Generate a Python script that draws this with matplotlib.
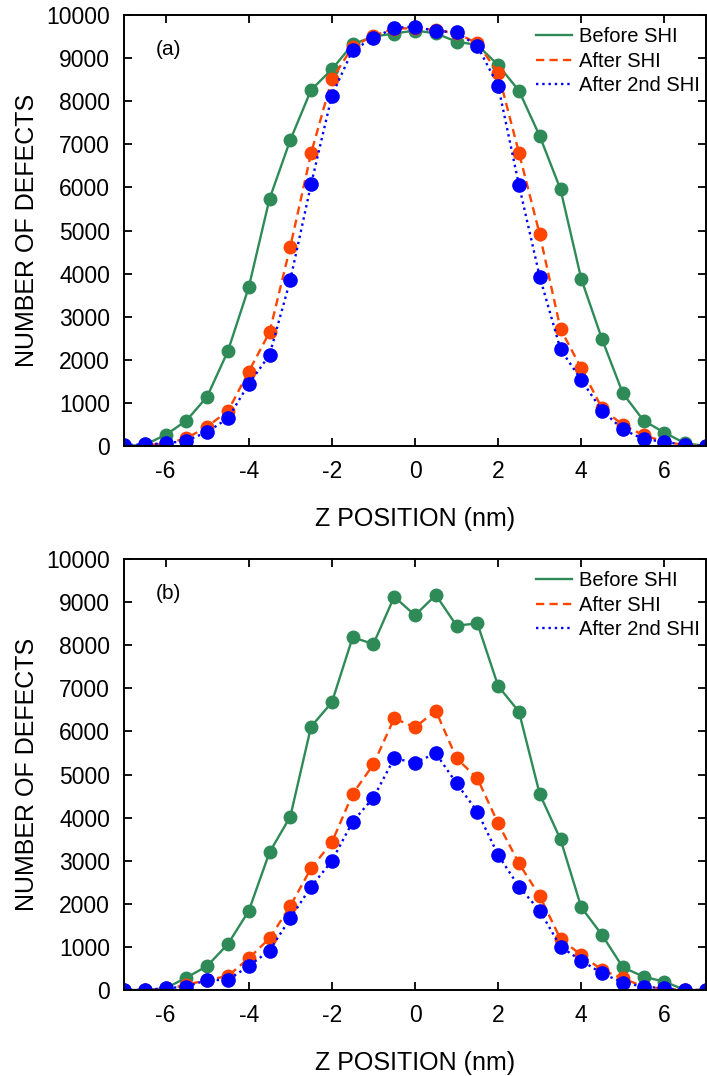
import matplotlib
matplotlib.use("Agg")
import matplotlib.pyplot as plt

plt.rcParams['font.family'] = ['Liberation Sans', 'DejaVu Sans']

z = [-7, -6.5, -6, -5.5, -5, -4.5, -4, -3.5, -3, -2.5, -2, -1.5, -1, -0.5, 0,
     0.5, 1, 1.5, 2, 2.5, 3, 3.5, 4, 4.5, 5, 5.5, 6, 6.5, 7]

a_before = [0, 30, 255, 588, 1145, 2204, 3681, 5731, 7100, 8260, 8739, 9319, 9500, 9570, 9640,
            9575, 9381, 9304, 8840, 8244, 7193, 5955, 3875, 2475, 1222, 588, 309, 62, 0]
a_after = [0, 20, 50, 178, 449, 812, 1725, 2637, 4625, 6790, 8507, 9265, 9520, 9680, 9700,
           9650, 9580, 9343, 8662, 6806, 4911, 2715, 1802, 874, 487, 250, 100, 20, 0]
a_after2 = [20, 40, 60, 124, 325, 642, 1438, 2111, 3851, 6071, 8128, 9188, 9459, 9706, 9729,
            9629, 9598, 9281, 8360, 6056, 3929, 2243, 1531, 820, 387, 155, 100, 20, 0]

b_before = [0, 0, 40, 286, 557, 1067, 1833, 3194, 4022, 6110, 6674, 8183, 8028, 9126, 8693,
            9165, 8453, 8507, 7053, 6458, 4548, 3496, 1918, 1276, 526, 309, 193, 0, 0]
b_after = [0, 0, 15, 120, 232, 325, 735, 1199, 1949, 2823, 3426, 4548, 5236, 6303, 6094,
           6481, 5375, 4911, 3867, 2939, 2181, 1183, 812, 464, 271, 77, 30, 0, 0]
b_after2 = [0, 0, 40, 77, 232, 232, 557, 913, 1663, 2398, 2993, 3906, 4462, 5375, 5275,
            5491, 4795, 4138, 3132, 2398, 1841, 1005, 681, 387, 170, 77, 40, 0, 0]

labels = ["Before SHI", "After SHI", "After 2nd SHI"]
panel_tags = ["(a)", "(b)"]
xticks = [-6, -4, -2, 0, 2, 4, 6]
yticks = list(range(0, 10001, 1000))

green = "#2e8b57"
orange = "#ff4500"
blue = "#0000ff"

fig = plt.figure(figsize=(7.07, 10.76), dpi=100)
ax1 = fig.add_axes([124/707, 1-446/1076, 582/707, 431/1076])
ax2 = fig.add_axes([124/707, 1-990/1076, 582/707, 431/1076])

for ax, data, tag in [(ax1, (a_before, a_after, a_after2), panel_tags[0]),
                      (ax2, (b_before, b_after, b_after2), panel_tags[1])]:
    ax.plot(z, data[0], '-', color=green, lw=1.7, marker='o', ms=9, label=labels[0])
    ax.plot(z, data[1], '--', color=orange, lw=1.7, marker='o', ms=9, label=labels[1],
            dashes=(3.5, 2.2))
    ax.plot(z, data[2], ':', color=blue, lw=1.7, marker='o', ms=9.5, label=labels[2])
    ax.set_xlim(-7, 7)
    ax.set_ylim(0, 10000)
    ax.set_xticks(xticks)
    ax.set_yticks(yticks)
    ax.set_xticklabels([str(t) for t in xticks])
    ax.tick_params(direction='in', top=True, right=True, labelsize=16.5, length=6, width=1.3)
    ax.tick_params(axis='x', pad=10)
    ax.tick_params(axis='y', pad=10)
    for s in ax.spines.values():
        s.set_linewidth(1.4)
    ax.set_xlabel("Z POSITION (nm)", fontsize=18)
    ax.set_ylabel("NUMBER OF DEFECTS", fontsize=18)
    ax.xaxis.set_label_coords(0.5, -0.17)
    ax.xaxis.label.set_va('center')
    ax.yaxis.set_label_coords(-0.166, 0.5)
    ax.yaxis.label.set_va('center')
    ax.text(0.055, 0.919, tag, transform=ax.transAxes, fontsize=15, va='center')
    leg = ax.legend(loc='upper right', frameon=False, fontsize=14.5, handlelength=1.8,
                    handletextpad=0.35, labelspacing=0.28, borderaxespad=0.0,
                    borderpad=0.3, bbox_to_anchor=(1.0, 0.986))
    for h in leg.legend_handles:
        h.set_marker('')

fig.savefig("out.png", dpi=100)
